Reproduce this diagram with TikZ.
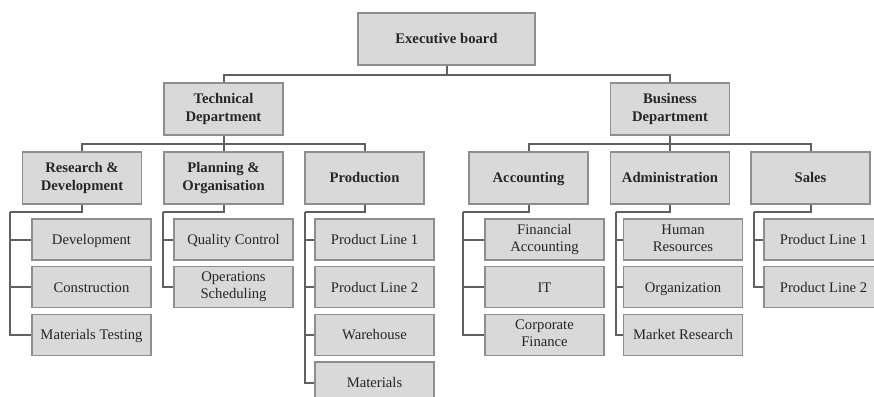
\documentclass[tikz,border=0pt]{standalone}
\usepackage{fontspec}
\setmainfont{Liberation Serif}

\definecolor{BoxFill}{HTML}{D9D9D9}
\definecolor{BoxLine}{HTML}{8E8E8E}
\definecolor{Wire}{HTML}{606060}

\newcommand{\BoxStrut}{\rule[-0.22em]{0pt}{1.12em}}

\tikzset{
	unit/.style={draw=BoxLine, fill=BoxFill, line width=1pt, inner sep=0pt,
		align=center, text=black!85, minimum width=89.25pt, minimum height=30.75pt,
		font=\fontsize{11}{12.75}\selectfont,
		execute at begin node=\BoxStrut, execute at end node=\BoxStrut},
	dept/.style={unit, minimum height=39pt, font=\fontsize{11}{13.5}\selectfont\bfseries},
	board/.style={dept, minimum width=132.75pt},
	wire/.style={draw=Wire, line width=1.5pt}
}

\begin{document}
\begin{tikzpicture}
	[x=0.75pt, y=-0.75pt]

	\useasboundingbox (0,0) rectangle (874,396);
	\clip (0,0) rectangle (874,396);

	% board and departments
	\begin{scope}
		\node[board] (exec) at (446.5,39) {Executive board};
		\node[dept] (tech) at (223.5,109) {Technical\\Department};
		\node[dept] (busi) at (670,109) {Business\\Department};

		\coordinate (topbus) at (446.5,75);
		\draw[wire] (exec) -- (topbus);
		\draw[wire] (tech) |- (topbus) -| (busi);
	\end{scope}

	% divisions
	\begin{scope}
		\foreach \grp/\x/\txt in {rd/82/{Research \&\\Development}, plan/223.5/{Planning \&\\Organisation},
			prod/364.5/Production, acc/528.5/Accounting, adm/670/Administration, sal/810.5/Sales} {
			\node[dept] (\grp) at (\x,178) {\txt};
		}

		\coordinate (techbus) at (223.5,144);
		\coordinate (busibus) at (670,144);
		\draw[wire] (tech) -- (plan);
		\draw[wire] (rd) |- (techbus) -| (prod);
		\draw[wire] (busi) -- (adm);
		\draw[wire] (acc) |- (busibus) -| (sal);
	\end{scope}

	% units below each division
	\begin{scope}
		\newcommand{\TurnY}{212}
		\newcommand{\RowStep}{47.7}
		\foreach \grp/\sx/\cx/\kids in {
			rd/10/91.5/{Development, Construction, Materials Testing},
			plan/163/233.5/{Quality Control, Operations\\Scheduling},
			prod/305/374.5/{Product Line 1, Product Line 2, Warehouse, Materials},
			acc/463/544.5/{Financial\\Accounting, IT, Corporate\\Finance},
			adm/616/683/{Human\\Resources, Organization, Market Research},
			sal/754/823.5/{Product Line 1, Product Line 2}} {
			\coordinate (\grp-turn) at (\sx,\TurnY);
			\draw[wire] (\grp) |- (\grp-turn);
			\foreach \kid [count=\k] in \kids {
				\node[unit] (\grp\k) at (\cx, 239.5 + \RowStep*\k - \RowStep) {\kid};
				\draw[wire] (\grp-turn) |- (\grp\k);
			}
		}
	\end{scope}

\end{tikzpicture}
\end{document}
